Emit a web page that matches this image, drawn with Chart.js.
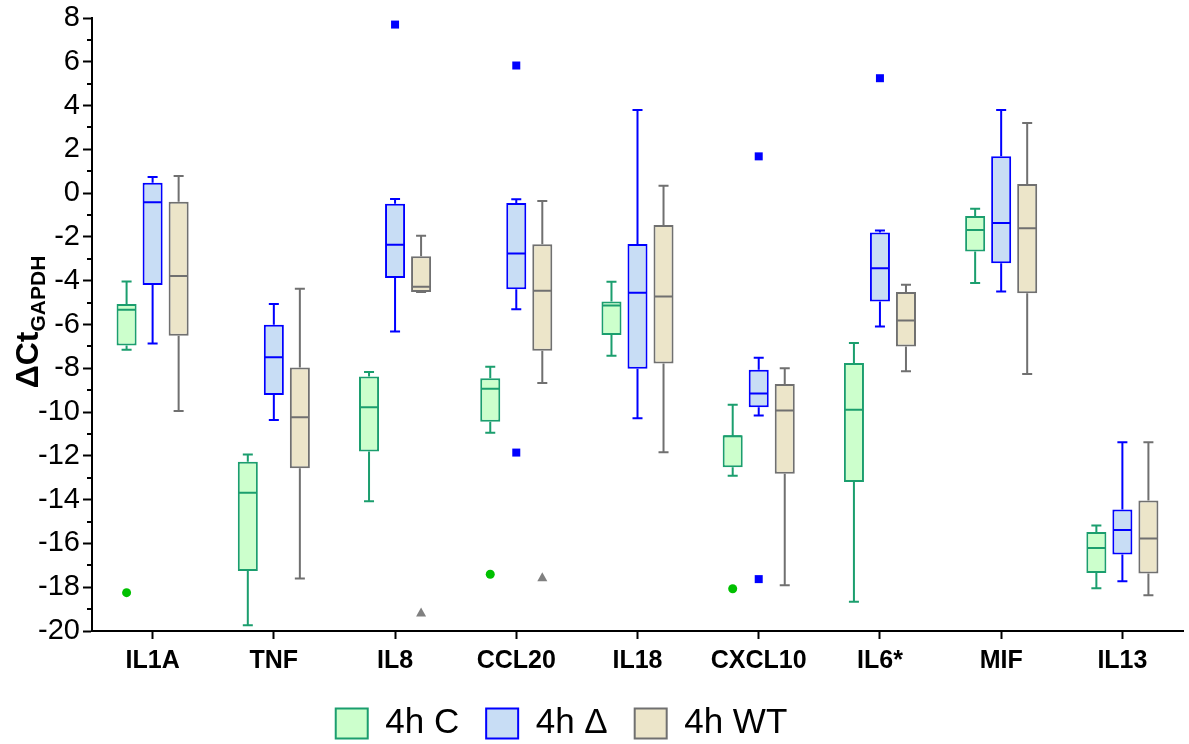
<!DOCTYPE html>
<html>
<head>
<meta charset="utf-8">
<script src="https://cdn.jsdelivr.net/npm/chart.js@4.4.1/dist/chart.umd.min.js"></script>
<style>
  html, body { margin: 0; padding: 0; background: #fff; }
  #wrap { width: 1189px; height: 744px; position: relative; }
</style>
</head>
<body>
<div id="wrap"><canvas id="chart"></canvas></div>
<script>
/* ---------- DATA ---------- */
const categories = ["IL1A", "TNF", "IL8", "CCL20", "IL18", "CXCL10", "IL6*", "MIF", "IL13"];
const groupNames = ["4h C", "4h \u0394", "4h WT"];

// [low whisker, Q1, median, Q3, high whisker] per category
const boxC = [
  [-7.15, -6.96, -5.33, -5.06, -4.04],
  [-19.74, -17.26, -13.69, -12.27, -11.94],
  [-14.07, -11.8, -9.78, -8.38, -8.17],
  [-10.94, -10.44, -8.93, -8.45, -7.93],
  [-7.43, -6.48, -5.13, -4.95, -4.05],
  [-12.91, -12.52, -11.1, -11.06, -9.66],
  [-18.66, -13.19, -9.89, -7.76, -6.85],
  [-4.11, -2.67, -1.68, -1.04, -0.71],
  [-18.05, -17.35, -16.21, -15.48, -15.18],
];
const boxD = [
  [-6.87, -4.2, -0.42, 0.48, 0.74],
  [-10.36, -9.22, -7.5, -6.01, -5.06],
  [-6.32, -3.88, -2.36, -0.48, -0.27],
  [-5.3, -4.39, -2.76, -0.45, -0.28],
  [-10.28, -8.02, -4.55, -2.32, 3.8],
  [-10.16, -9.78, -9.15, -8.07, -7.52],
  [-6.09, -4.95, -3.43, -1.8, -1.71],
  [-4.49, -3.2, -1.36, 1.68, 3.8],
  [-17.73, -16.5, -15.39, -14.45, -11.38],
];
const boxWT = [
  [-9.95, -6.51, -3.78, -0.39, 0.78],
  [-17.6, -12.57, -10.24, -7.96, -4.37],
  [-4.51, -4.51, -4.27, -2.88, -1.95],
  [-8.67, -7.2, -4.46, -2.33, -0.36],
  [-11.84, -7.78, -4.72, -1.45, 0.34],
  [-17.91, -12.82, -9.93, -8.72, -8.0],
  [-8.14, -7.0, -5.82, -4.52, -4.19],
  [-8.26, -4.57, -1.6, 0.42, 3.2],
  [-18.37, -17.37, -15.77, -14.04, -11.38],
];

// outliers: [category index, value]
const outC = [[0, -18.25], [3, -17.41], [5, -18.07]];
const outD = [[2, 7.7], [3, 5.83], [3, -11.85], [5, 1.68], [5, -17.63], [6, 5.25]];
const outWT = [[2, -19.16], [3, -17.54]];

const yTicksMin = -20, yTicksMax = 8;

/* ---------- STYLE ---------- */
const FONT = "'Liberation Sans', Arial, sans-serif";
const groups = [
  { stats: boxC, out: outC, fill: "#ccffcc", stroke: "#1b9e6e", dot: "#00c000", shape: "circle" },
  { stats: boxD, out: outD, fill: "#c8ddf5", stroke: "#0000ff", dot: "#0000ff", shape: "square" },
  { stats: boxWT, out: outWT, fill: "#ece5c9", stroke: "#707070", dot: "#808080", shape: "triangle" },
];

/* ---------- PLUGINS ---------- */
const boxPlugin = {
  id: "boxWhiskers",
  afterLayout(chart) {
    // nudge the legend to where the original figure puts it
    const lg = chart.legend;
    lg.left -= 60;
    lg.top += 8;
    lg.bottom += 8;
  },
  afterDatasetsDraw(chart) {
    const ctx = chart.ctx;
    const y = chart.scales.y;
    ctx.save();
    groups.forEach((g, di) => {
      const meta = chart.getDatasetMeta(di);
      ctx.strokeStyle = g.stroke;
      ctx.lineWidth = 2;
      meta.data.forEach((bar, i) => {
        const [lo, q1, md, q3, hi] = g.stats[i];
        const x = bar.x, w = bar.width;
        ctx.beginPath();
        ctx.moveTo(x - w / 2 + 1, y.getPixelForValue(md));
        ctx.lineTo(x + w / 2 - 1, y.getPixelForValue(md));
        ctx.moveTo(x, y.getPixelForValue(q3));
        ctx.lineTo(x, y.getPixelForValue(hi));
        ctx.moveTo(x - w / 4, y.getPixelForValue(hi));
        ctx.lineTo(x + w / 4, y.getPixelForValue(hi));
        ctx.moveTo(x, y.getPixelForValue(q1));
        ctx.lineTo(x, y.getPixelForValue(lo));
        ctx.moveTo(x - w / 4, y.getPixelForValue(lo));
        ctx.lineTo(x + w / 4, y.getPixelForValue(lo));
        ctx.stroke();
      });
      ctx.fillStyle = g.dot;
      g.out.forEach(([ci, v]) => {
        const x = meta.data[ci].x, py = y.getPixelForValue(v);
        ctx.beginPath();
        if (g.shape === "circle") ctx.arc(x, py, 4.5, 0, Math.PI * 2);
        else if (g.shape === "square") ctx.rect(x - 4, py - 4, 8, 8);
        else { ctx.moveTo(x, py - 5); ctx.lineTo(x + 5, py + 4); ctx.lineTo(x - 5, py + 4); ctx.closePath(); }
        ctx.fill();
      });
    });
    ctx.restore();
  },
  afterDraw(chart) {
    const ctx = chart.ctx;
    const y = chart.scales.y;
    const ax = chart.chartArea.left;
    ctx.save();
    // minor ticks
    ctx.strokeStyle = "#000";
    ctx.lineWidth = 2;
    ctx.beginPath();
    for (let v = yTicksMin + 1; v < yTicksMax; v += 2) {
      const py = Math.round(y.getPixelForValue(v));
      ctx.moveTo(ax - 5, py);
      ctx.lineTo(ax, py);
    }
    ctx.stroke();
    // y axis title with subscript
    ctx.translate(38, 322);
    ctx.rotate(-Math.PI / 2);
    ctx.fillStyle = "#000";
    ctx.textBaseline = "alphabetic";
    const main = "\u0394Ct", sub = "GAPDH";
    ctx.font = "bold 21px " + FONT;
    const subW = ctx.measureText(sub).width;
    ctx.font = "bold 32px " + FONT;
    const mainW = ctx.measureText(main).width;
    const start = -(mainW + subW) / 2;
    ctx.fillText(main, start, 0);
    ctx.font = "bold 21px " + FONT;
    ctx.fillText(sub, start + mainW, 7);
    ctx.restore();
  },
};

/* ---------- CHART ---------- */
new Chart(document.getElementById("chart"), {
  type: "bar",
  data: {
    labels: categories,
    datasets: groups.map((g, i) => ({
      label: groupNames[i],
      data: g.stats.map((s) => [s[1], s[3]]),
      backgroundColor: g.fill,
      borderColor: g.stroke,
      borderWidth: 2,
      borderSkipped: false,
      barPercentage: 0.77,
      categoryPercentage: 0.644,
    })),
  },
  options: {
    responsive: true,
    maintainAspectRatio: false,
    animation: false,
    layout: { padding: { top: 18, right: 6, left: 0, bottom: 1 } },
    scales: {
      x: {
        grid: { display: true, drawOnChartArea: false, offset: false, tickLength: 8, tickWidth: 2, tickColor: "#000" },
        border: { display: true, width: 2, color: "#000" },
        ticks: { color: "#000", font: { family: FONT, size: 25, weight: "bold" }, padding: 7, autoSkip: false, maxRotation: 0 },
        afterFit: (s) => { s.height = 40; },
      },
      y: {
        min: yTicksMin,
        max: yTicksMax,
        grid: {
          display: true,
          drawOnChartArea: false,
          tickLength: 9,
          tickWidth: 2,
          tickColor: (c) => (c.tick && c.tick.value % 2 === 0 ? "#000" : "rgba(0,0,0,0)"),
        },
        border: { display: true, width: 2, color: "#000" },
        ticks: {
          stepSize: 1,
          autoSkip: false,
          color: "#000",
          padding: 3,
          font: { family: FONT, size: 29, lineHeight: 1 },
          callback: (v) => (v % 2 === 0 ? String(v) : ""),
        },
        afterFit: (s) => { s.width = 92; },
      },
    },
    plugins: {
      legend: {
        position: "bottom",
        labels: {
          color: "#000",
          font: { family: FONT, size: 35 },
          boxWidth: 32,
          boxHeight: 30,
          padding: 27,
        },
      },
      tooltip: { enabled: false },
    },
  },
  plugins: [boxPlugin],
});
</script>
</body>
</html>
